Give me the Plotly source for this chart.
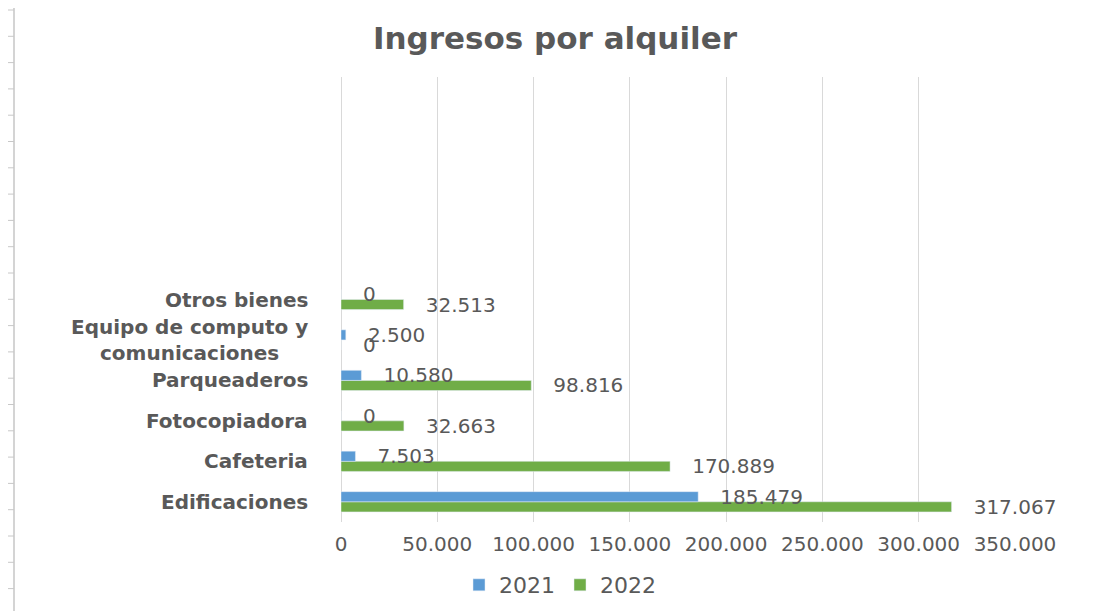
import plotly.graph_objects as go

categories = ["Edificaciones", "Cafeteria", "Fotocopiadora", "Parqueaderos",
              "Equipo de computo y<br>comunicaciones", "Otros bienes"]
values_2021 = [185479, 7503, 0, 10580, 2500, 0]
values_2022 = [317067, 170889, 32663, 98816, 0, 32513]
x_ticks = [0, 50000, 100000, 150000, 200000, 250000, 300000, 350000]

GRAY = "#595959"
FONT = "DejaVu Sans"
pos = list(range(len(categories)))

# the page body adds an 8px margin, so the figure is sized/placed to compensate
OFF = 8
W, H = 1094 - OFF, 611 - OFF
L, R, T, B = 341 - OFF, 79, 77 - OFF, 89
pw, ph = W - L - R, H - T - B

fig = go.Figure()
lbl = "\u00a0\u00a0\u00a0%{x:,.0f}"
fig.add_trace(go.Bar(name="2022", y=pos, x=values_2022, orientation="h",
                     marker_color="#70AD47", texttemplate=lbl, textposition="outside",
                     constraintext="none", cliponaxis=False,
                     textfont=dict(family=FONT, size=20, color=GRAY)))
fig.add_trace(go.Bar(name="2021", y=pos, x=values_2021, orientation="h",
                     marker_color="#5B9BD5", texttemplate=lbl, textposition="outside",
                     constraintext="none", cliponaxis=False,
                     textfont=dict(family=FONT, size=20, color=GRAY)))

annotations = []
for i, c in enumerate(categories):
    annotations.append(dict(x=0, xref="paper", xanchor="right", xshift=-31,
                            y=i, yref="y", text=c, showarrow=False, align="center",
                            font=dict(family=FONT, size=20, color=GRAY, weight="bold")))

# decorative left border with ticks (page artifact)
def px_to_paper_x(px):
    return (px - OFF - L) / pw

def py_to_paper_y(py):
    return (H - B - (py - OFF)) / ph

shapes = [dict(type="line", xref="paper", yref="paper",
               x0=px_to_paper_x(14), x1=px_to_paper_x(14),
               y0=py_to_paper_y(0), y1=py_to_paper_y(611),
               line=dict(color="#D4D4D4", width=2))]
k = 0
while 10 + k * 26.3 < 611:
    yy = 10 + k * 26.3
    shapes.append(dict(type="line", xref="paper", yref="paper",
                       x0=px_to_paper_x(7), x1=px_to_paper_x(14),
                       y0=py_to_paper_y(yy), y1=py_to_paper_y(yy),
                       line=dict(color="#C8C8C8", width=1)))
    k += 1

fig.update_layout(
    width=W, height=H,
    margin=dict(l=L, r=R, t=T, b=B, autoexpand=False),
    paper_bgcolor="white", plot_bgcolor="white",
    separators=",.",
    barmode="group", bargap=0.5, bargroupgap=0,
    title=dict(text="Ingresos por alquiler", x=(555 - OFF) / W, xref="container",
               xanchor="center", y=1 - (38 - OFF) / H, yref="container", yanchor="middle",
               font=dict(family=FONT, size=31, color=GRAY, weight="bold")),
    xaxis=dict(range=[0, 350000], tickvals=x_ticks, tickformat=",.0f",
               showgrid=True, gridcolor="#D9D9D9", gridwidth=1,
               zeroline=True, zerolinecolor="#D9D9D9", zerolinewidth=1,
               showline=False, ticks="", ticklabelstandoff=8,
               tickfont=dict(family=FONT, size=20, color=GRAY)),
    yaxis=dict(range=[-0.5, 10.5], showticklabels=False, showgrid=False,
               zeroline=False, showline=False, ticks=""),
    legend=dict(orientation="h", traceorder="reversed", xref="container",
                x=(560 - OFF) / W, xanchor="center", yref="container",
                y=1 - (585 - OFF) / H, yanchor="middle",
                font=dict(family=FONT, size=22, color=GRAY)),
    annotations=annotations,
    shapes=shapes,
)

fig.write_html("out.html")
